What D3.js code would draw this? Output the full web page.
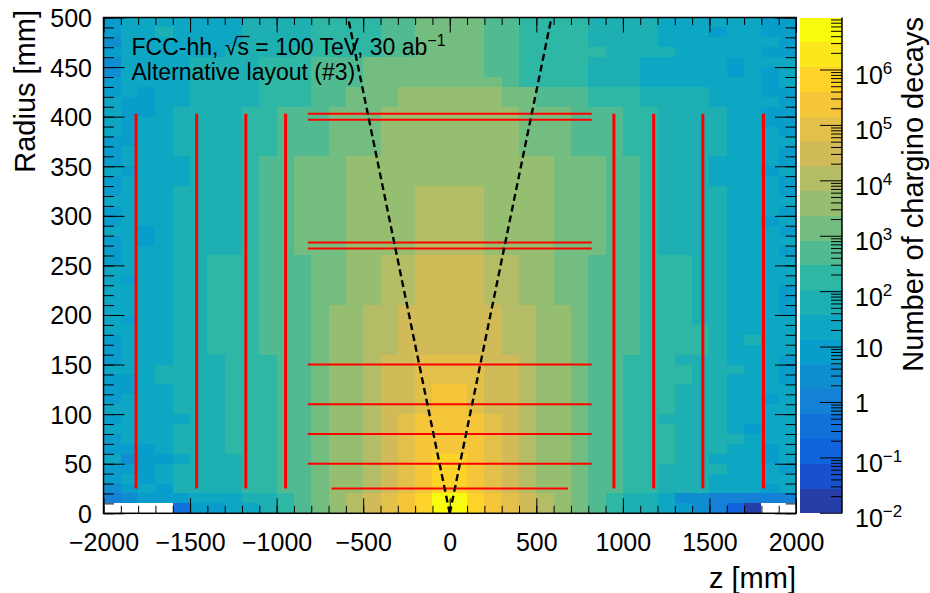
<!DOCTYPE html>
<html>
<head>
<meta charset="utf-8">
<script src="https://cdn.jsdelivr.net/npm/d3@7"></script>
<style>
  html, body { margin: 0; padding: 0; background: #fff; }
  svg text { font-family: "Liberation Sans", Arial, Helvetica, sans-serif; fill: #000; }
</style>
</head>
<body>
<svg id="chart" width="930" height="593"></svg>
<script>
// ---- binning: 40 z bins of 100 mm, 50 radial bins of 10 mm ----
const zRange = [-2000, 2000];
const rRange = [0, 500];
const zBin = 100;
const rBin = 10;

// colour band of every bin: '0'-'9','a'-'j' = band 0..19, '.' = empty bin.
// One string per radial slice, from r = 490-500 mm (first) to r = 0-10 mm (last);
// characters run from z = -2000 mm to z = +2000 mm.
const bandRows = [
  "6777777788889999aabb" + "bbaa9999888877777766", // 490
  "6778777788889999aabb" + "bbaa9999888877767766", // 480
  "5777777788889999aabb" + "bbaa9999888877777776", // 470
  "6777777888899999aabb" + "bbaa9999988887777766", // 460
  "577778888999aaabbbbb" + "bbaa9999888777776777", // 450
  "577778888999aaabbbbb" + "bbaa9999888777776767", // 440
  "677778888999aaabbbbb" + "bbba9999888777777767", // 430
  "676778888999aabbbccc" + "cccbbaaa999888877766", // 420
  "766778888999aabbbccc" + "cccbbaaa999888877776", // 410
  "7667888899aaabbbcccc" + "ccccbbbaaa9988887766", // 400
  "7677888899aaabbbcccc" + "ccccbbbaaa9988887766", // 390
  "7677888899aaabbbcccc" + "ccccbbbaaa9988887776", // 380
  "6677888899aaabbbcccc" + "ccccbbbaaa9988887777", // 370
  "6777888899aaabbbcccc" + "ccccbbbaaa9988887776", // 360
  "677778889aabbbcccccc" + "ccccccbbbaa988877776", // 350
  "767778889aabbbcccccc" + "ccccccbbbaa988877767", // 340
  "677778889aabbbcccccc" + "ccccccbbbaa988877776", // 330
  "677788889aabbbccccdd" + "ddccccbbbaa988887776", // 320
  "777788889aabbbccccdd" + "ddccccbbbaa988887777", // 310
  "677788889aabbbccccdd" + "ddccccbbbaa988887776", // 300
  "677788889aabbbccccdd" + "ddccccbbbaa988887767", // 290
  "776788889aabbbccccdd" + "ddccccbbbaa988887776", // 280
  "676788889aabbbccccdd" + "ddccccbbbaa988887777", // 270
  "677788889aabbbccccdd" + "ddccccbbbaa988887776", // 260
  "677788999aaabbccddee" + "eeddccbbaaa999887777", // 250
  "777788999aaabbccddee" + "eeddccbbaaa999887777", // 240
  "767788999aaabbccddee" + "eeddccbbaaa999887777", // 230
  "777788999aaabbccddee" + "eeddccbbaaa999887776", // 220
  "777788999aaabbccddee" + "eeddccbbaaa999887776", // 210
  "777788999aaabccddeee" + "eeeddccbaaa999887776", // 200
  "767788999aaabccddeee" + "eeeddccbaaa999887777", // 190
  "777788999aaabccddeee" + "eeeddccbaaa999987777", // 180
  "677788999aaabccddeee" + "eeeddccbaaa999987877", // 170
  "677788999aaabccddeee" + "eeeddccbaaa999987777", // 160
  "6777888999aabccdeeff" + "ffeedccbaa9998887776", // 150
  "7778888999aabccdeeff" + "ffeedccbaa9999888776", // 140
  "6678888999aabccdeeff" + "ffeedccbaa9999887776", // 130
  "6677888999aabccdeefg" + "gfeedccbaa9998887777", // 120
  "6777888999aabccdeefg" + "gfeedccbaa9998887767", // 110
  "7777888999aabccdeefg" + "gfeedccbaa9998887777", // 100
  "6777788999aabccdefgg" + "ggfedccbaa9988887777", // 90
  "7777888999aabccdefgg" + "ggfedccbaa9998887677", // 80
  "6777888999aabccdefgg" + "ggfedccbaa9998888777", // 70
  "6667888999aabccdefgg" + "ggfedccbaa9998887767", // 60
  "7566788899aabccdefgh" + "hgfedccbaa9998877767", // 50
  "6667888899aabccdefgh" + "hgfedccbaa9988887776", // 40
  "6767888899aabccdefgh" + "hgfedccbaa9988877777", // 30
  "5676888899aabccdefgh" + "hgfedccbaa9988877767", // 20
  "45666777889abcdefghj" + "jhgfedcba98875544444", // 10
  "....3667789abcdefghj" + "jhgfedcba988765420.."  // 0
];
const bandCodes = "0123456789abcdefghij";

// colour axis: 20 equal log bands between 1e-2 and the histogram maximum
const logMin = -2;
const logMax = 6.948;
const nBands = 20;
const bandStep = (logMax - logMin) / nBands;

// axis ticks
const zTicks = [-2000, -1500, -1000, -500, 0, 500, 1000, 1500, 2000];
const rTicks = [0, 50, 100, 150, 200, 250, 300, 350, 400, 450, 500];
const decades = [-2, -1, 0, 1, 2, 3, 4, 5, 6];

// tracker layout overlay (mm)
const barrelLayers = [
  { r: 25, halfLength: 683 }, { r: 50, halfLength: 820 }, { r: 80, halfLength: 820 },
  { r: 110, halfLength: 820 }, { r: 150, halfLength: 820 }, { r: 267, halfLength: 820 },
  { r: 273, halfLength: 820 }, { r: 397, halfLength: 820 }, { r: 403, halfLength: 820 }
];
const diskPositions = [-1812, -1462, -1178, -948, 948, 1178, 1462, 1812];
const diskRadii = [25, 403];
const etaLines = [-1, 1];

// ---- geometry ----
const frame = { left: 103.5, right: 796, top: 17.5, bottom: 513.3 };
const cbar = { left: 800, right: 842 };

const svg = d3.select("#chart");
const x = d3.scaleLinear().domain(zRange).range([frame.left, frame.right]);
const y = d3.scaleLinear().domain(rRange).range([frame.bottom, frame.top]);
const cy = d3.scaleLog().domain([Math.pow(10, logMin), Math.pow(10, logMax)]).range([frame.bottom, frame.top]);

// ROOT kBird palette (255 colours), band i uses colour index (i+0.99)*255/20
const birdStops = [0, 0.125, 0.25, 0.375, 0.5, 0.625, 0.75, 0.875, 1];
const birdRGB = [
  [0.2082, 0.1664, 0.5293], [0.0592, 0.3599, 0.8684], [0.0780, 0.5041, 0.8385],
  [0.0232, 0.6419, 0.7914], [0.1802, 0.7178, 0.6425], [0.5301, 0.7492, 0.4662],
  [0.8186, 0.7328, 0.3499], [0.9956, 0.7862, 0.1968], [0.9764, 0.9832, 0.0539]
];
const bird = d3.scaleLinear().domain(birdStops)
  .range(birdRGB.map(c => d3.rgb(c[0] * 255, c[1] * 255, c[2] * 255)))
  .interpolate(d3.interpolateRgb);
const bandColor = b => bird(Math.min(254, Math.floor((b + 0.99) * 255 / nBands)) / 254);
const bandOf = v => Math.max(0, Math.min(nBands - 1, Math.floor((Math.log10(v) - logMin) / bandStep)));

// ---- decode bins ----
const cells = [];
bandRows.forEach((row, i) => {
  const r0 = rRange[1] - rBin * (i + 1);
  Array.from(row).forEach((ch, c) => {
    if (ch === ".") return;
    const band = bandCodes.indexOf(ch);
    cells.push({ z0: zRange[0] + zBin * c, r0, count: Math.pow(10, logMin + (band + 0.5) * bandStep) });
  });
});

// ---- heat map ----
svg.append("g").attr("shape-rendering", "crispEdges")
  .selectAll("rect").data(cells).join("rect")
  .attr("x", d => x(d.z0))
  .attr("y", d => y(d.r0 + rBin))
  .attr("width", d => x(d.z0 + zBin) - x(d.z0))
  .attr("height", d => y(d.r0) - y(d.r0 + rBin))
  .attr("fill", d => bandColor(bandOf(d.count)));

// ---- detector layout ----
const overlay = svg.append("g");
overlay.selectAll("line.disk").data(diskPositions).join("line")
  .attr("class", "disk")
  .attr("x1", d => x(d)).attr("x2", d => x(d))
  .attr("y1", y(diskRadii[0])).attr("y2", y(diskRadii[1]))
  .attr("stroke", "#ff0000").attr("stroke-width", 3);
overlay.selectAll("line.barrel").data(barrelLayers).join("line")
  .attr("class", "barrel")
  .attr("x1", d => x(-d.halfLength)).attr("x2", d => x(d.halfLength))
  .attr("y1", d => y(d.r)).attr("y2", d => y(d.r))
  .attr("stroke", "#ff0000").attr("stroke-width", 2);

// |eta| = 1 lines
svg.append("clipPath").attr("id", "plotClip").append("rect")
  .attr("x", frame.left).attr("y", frame.top)
  .attr("width", frame.right - frame.left).attr("height", frame.bottom - frame.top);
svg.append("g").attr("clip-path", "url(#plotClip)")
  .selectAll("line").data(etaLines).join("line")
  .attr("x1", x(0)).attr("y1", y(0))
  .attr("x2", d => x(rRange[1] * Math.sinh(d) * 1.02))
  .attr("y2", y(rRange[1] * 1.02))
  .attr("stroke", "#000").attr("stroke-width", 2.4).attr("stroke-dasharray", "7,4");

// ---- axes ----
const fmtZ = d => (d < 0 ? "\u2212" + Math.abs(d) : String(d));
const zMinor = d3.range(zRange[0], zRange[1] + 1, 100);
const rMinor = d3.range(rRange[0], rRange[1] + 1, 10);

function styleAxis(g) {
  g.select(".domain").remove();
  g.selectAll(".tick line").attr("stroke", "#000").attr("stroke-width", 1);
  g.selectAll(".tick text").attr("font-size", 25).attr("font-family", '"Liberation Sans", Arial, sans-serif').attr("fill", "#000");
}

svg.append("g").attr("transform", `translate(0,${frame.bottom})`)
  .call(d3.axisBottom(x).tickValues(zMinor).tickSize(-7.5).tickFormat(""))
  .call(styleAxis);
svg.append("g").attr("transform", `translate(0,${frame.bottom})`)
  .call(d3.axisBottom(x).tickValues(zTicks).tickSize(-15).tickPadding(20).tickFormat(fmtZ))
  .call(styleAxis);
svg.append("g").attr("transform", `translate(0,${frame.top})`)
  .call(d3.axisTop(x).tickValues(zMinor).tickSize(-7.5).tickFormat(""))
  .call(styleAxis);
svg.append("g").attr("transform", `translate(0,${frame.top})`)
  .call(d3.axisTop(x).tickValues(zTicks).tickSize(-15).tickFormat(""))
  .call(styleAxis);

svg.append("g").attr("transform", `translate(${frame.left},0)`)
  .call(d3.axisLeft(y).tickValues(rMinor).tickSize(-10.5).tickFormat(""))
  .call(styleAxis);
svg.append("g").attr("transform", `translate(${frame.left},0)`)
  .call(d3.axisLeft(y).tickValues(rTicks).tickSize(-21).tickPadding(11.5).tickFormat(d3.format("d")))
  .call(styleAxis)
  .call(g => g.selectAll(".tick text").attr("dy", "0.36em"));
svg.append("g").attr("transform", `translate(${frame.right},0)`)
  .call(d3.axisRight(y).tickValues(rMinor).tickSize(-10.5).tickFormat(""))
  .call(styleAxis);
svg.append("g").attr("transform", `translate(${frame.right},0)`)
  .call(d3.axisRight(y).tickValues(rTicks).tickSize(-21).tickFormat(""))
  .call(styleAxis);

svg.append("rect")
  .attr("x", frame.left).attr("y", frame.top)
  .attr("width", frame.right - frame.left).attr("height", frame.bottom - frame.top)
  .attr("fill", "none").attr("stroke", "#000").attr("stroke-width", 1.5);

// ---- colour bar ----
const bands = d3.range(nBands);
svg.append("g").attr("shape-rendering", "crispEdges")
  .selectAll("rect").data(bands).join("rect")
  .attr("x", cbar.left)
  .attr("width", cbar.right - cbar.left)
  .attr("y", b => cy(Math.pow(10, logMin + (b + 1) * bandStep)))
  .attr("height", b => cy(Math.pow(10, logMin + b * bandStep)) - cy(Math.pow(10, logMin + (b + 1) * bandStep)))
  .attr("fill", b => bandColor(b));

const cbMinor = [];
decades.forEach(p => { for (let k = 2; k <= 9; k++) { const v = k * Math.pow(10, p); if (Math.log10(v) <= logMax) cbMinor.push(v); } });
const cbAxis = svg.append("g");
cbAxis.append("line")
  .attr("x1", cbar.right).attr("x2", cbar.right)
  .attr("y1", frame.top).attr("y2", frame.bottom)
  .attr("stroke", "#000").attr("stroke-width", 1.5);
cbAxis.selectAll("line.minor").data(cbMinor).join("line")
  .attr("class", "minor")
  .attr("x1", cbar.right - 11).attr("x2", cbar.right)
  .attr("y1", d => cy(d)).attr("y2", d => cy(d))
  .attr("stroke", "#000").attr("stroke-width", 1);
cbAxis.selectAll("line.major").data(decades).join("line")
  .attr("class", "major")
  .attr("x1", cbar.right - 22).attr("x2", cbar.right)
  .attr("y1", p => cy(Math.pow(10, p))).attr("y2", p => cy(Math.pow(10, p)))
  .attr("stroke", "#000").attr("stroke-width", 1);

decades.forEach(p => {
  const ty = cy(Math.pow(10, p));
  const t = svg.append("text").attr("x", 855).attr("font-size", 25);
  if (p === 0 || p === 1) {
    t.attr("y", ty + 9.5).text(p === 0 ? "1" : "10");
  } else {
    t.attr("y", ty + 14);
    t.append("tspan").text("10");
    t.append("tspan").attr("font-size", 17).attr("dy", -10)
      .text(p < 0 ? "\u2212" + Math.abs(p) : String(p));
  }
});

// ---- titles ----
svg.append("text")
  .attr("transform", "translate(35,10) rotate(-90)")
  .attr("text-anchor", "end").attr("font-size", 29)
  .text("Radius [mm]");
svg.append("text")
  .attr("x", frame.right).attr("y", 588)
  .attr("text-anchor", "end").attr("font-size", 29)
  .text("z [mm]");
svg.append("text")
  .attr("transform", "translate(923,17) rotate(-90)")
  .attr("text-anchor", "end").attr("font-size", 29)
  .text("Number of chargino decays");

// ---- labels ----
const line1 = svg.append("text").attr("x", 131.5).attr("y", 55).attr("font-size", 23);
line1.append("tspan").text("FCC-hh, \u221A");
line1.append("tspan").text("s");
line1.append("tspan").text(" = 100 TeV, 30 ab");
line1.append("tspan").attr("font-size", 16).attr("dy", -9).text("\u22121");
const n1 = line1.node();
const sIdx = "FCC-hh, \u221A".length;
const sStart = n1.getStartPositionOfChar(sIdx).x;
const sEnd = n1.getEndPositionOfChar(sIdx).x;
svg.append("line")
  .attr("x1", sStart - 1).attr("x2", sEnd + 0.5)
  .attr("y1", 55 - 18.5).attr("y2", 55 - 18.5)
  .attr("stroke", "#000").attr("stroke-width", 1.3);

svg.append("text").attr("x", 131.5).attr("y", 79.5).attr("font-size", 23)
  .text("Alternative layout (#3)");
</script>
</body>
</html>
